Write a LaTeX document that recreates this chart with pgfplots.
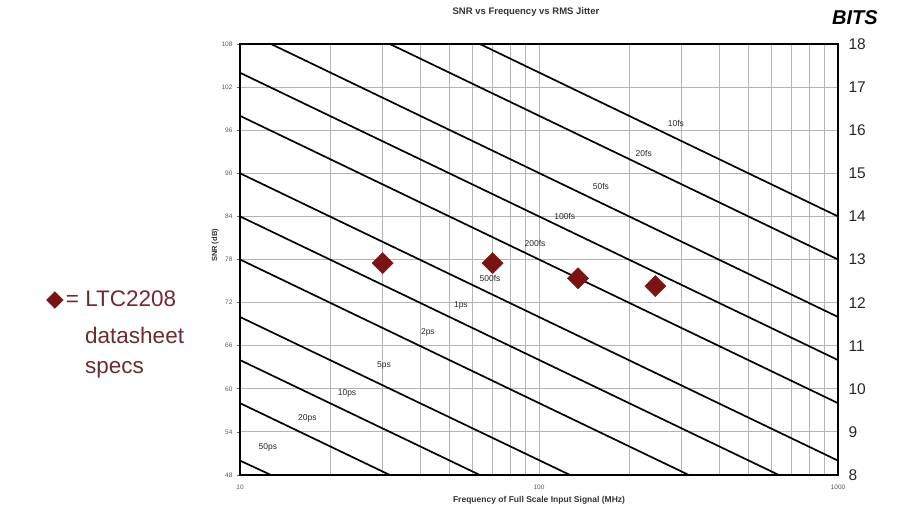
\documentclass[border=0pt]{standalone}
\usepackage{pgfplots}
\pgfplotsset{compat=1.18}
\usepackage{fontspec}
\setmainfont{Liberation Sans}
\newfontfamily\dejavu{DejaVu Sans}
\definecolor{dred}{HTML}{7A1414}
\definecolor{ltext}{HTML}{6E2A32}
\definecolor{gridc}{HTML}{B4B4B4}
\pgfplotsset{jl/.style={black, line width=1.7pt, mark=none}}
\begin{document}
\begin{tikzpicture}
\path[use as bounding box] (0pt,0pt) rectangle (900pt,514pt);
\begin{axis}[at={(240pt,39pt)}, anchor=south west, scale only axis,
  width=598pt, height=431pt,
  xmode=log, xmin=10, xmax=1000, ymin=48, ymax=108,
  ytick={48,54,...,108}, xtick={10,100,1000}, xticklabels={10,100,1000},
  minor xtick={20,30,40,50,60,70,80,90,200,300,400,500,600,700,800,900},
  grid=both,
  major grid style={gridc, line width=0.9pt},
  minor grid style={gridc, line width=0.9pt},
  axis line style={line width=1.6pt},
  major tick length=3pt, minor tick length=0pt,
  tick align=outside, ytick pos=left,
  xtick style={draw=none}, ytick style={black!60, line width=0.6pt},
  /pgf/number format/assume math mode=true,
  tick label style={font=\fontsize{6.5}{7}\selectfont, text=black!65},
  xticklabel style={yshift=-3pt},
  yticklabel style={xshift=-1pt},
  xlabel={\bfseries Frequency of Full Scale Input Signal (MHz)},
  xlabel style={font=\fontsize{8.5}{9}\selectfont, text=black!80, yshift=0pt},
  ylabel={\bfseries SNR (dB)},
  ylabel style={font=\fontsize{7.5}{8}\selectfont, text=black!80, yshift=-4pt, xshift=14pt},
  clip=true,
]
% jitter lines (endpoints)
\addplot[jl] coordinates {(63.4,108) (1000,84)};
\addplot[jl] coordinates {(31.7,108) (1000,78)};
\addplot[jl] coordinates {(12.7,108) (1000,70)};
\addplot[jl] coordinates {(10,104) (1000,64)};
\addplot[jl] coordinates {(10,98) (1000,58)};
\addplot[jl] coordinates {(10,90) (1000,50)};
\addplot[jl] coordinates {(10,84) (634,48)};
\addplot[jl] coordinates {(10,78) (317,48)};
\addplot[jl] coordinates {(10,70) (127,48)};
\addplot[jl] coordinates {(10,64) (63.4,48)};
\addplot[jl] coordinates {(10,58) (31.7,48)};
\addplot[jl] coordinates {(10,50) (12.7,48)};
% datasheet points
\addplot[only marks, mark=square*, mark size=7.5, mark options={rotate=45, fill=dred, draw=dred}]
  coordinates {(30,77.5) (70,77.5) (135,75.4) (245,74.3)};
% labels
\node[font=\fontsize{8.5}{9}\selectfont, text=black!85] at (axis cs:287,96.9) {10fs};
\node[font=\fontsize{8.5}{9}\selectfont, text=black!85] at (axis cs:224,92.8) {20fs};
\node[font=\fontsize{8.5}{9}\selectfont, text=black!85] at (axis cs:161,88.1) {50fs};
\node[font=\fontsize{8.5}{9}\selectfont, text=black!85] at (axis cs:122,84.0) {100fs};
\node[font=\fontsize{8.5}{9}\selectfont, text=black!85] at (axis cs:97,80.3) {200fs};
\node[font=\fontsize{8.5}{9}\selectfont, text=black!85] at (axis cs:68.6,75.4) {500fs};
\node[font=\fontsize{8.5}{9}\selectfont, text=black!85] at (axis cs:54.8,71.6) {1ps};
\node[font=\fontsize{8.5}{9}\selectfont, text=black!85] at (axis cs:42.5,67.9) {2ps};
\node[font=\fontsize{8.5}{9}\selectfont, text=black!85] at (axis cs:30.3,63.2) {5ps};
\node[font=\fontsize{8.5}{9}\selectfont, text=black!85] at (axis cs:22.8,59.3) {10ps};
\node[font=\fontsize{8.5}{9}\selectfont, text=black!85] at (axis cs:16.8,55.9) {20ps};
\node[font=\fontsize{8.5}{9}\selectfont, text=black!85] at (axis cs:12.4,51.9) {50ps};
\end{axis}
\begin{axis}[at={(240pt,39pt)}, anchor=south west, scale only axis,
  width=598pt, height=431pt,
  xmin=0, xmax=1, ymin=8, ymax=18,
  axis x line=none, axis y line*=right,
  axis line style={draw=none},
  ytick={8,9,...,18}, major tick length=0pt,
  /pgf/number format/assume math mode=true,
  yticklabel style={font=\fontsize{15.5}{16}\selectfont, text=black!85, xshift=7pt},
]
\end{axis}
\node[font=\fontsize{9.5}{10}\selectfont\bfseries, text=black!80] at (526pt,502pt) {SNR vs Frequency vs RMS Jitter};
\node[font=\fontsize{20}{21}\selectfont\bfseries\itshape] at (855pt,496pt) {BITS};
\node[anchor=west, font=\fontsize{22.5}{24}\selectfont, text=ltext, inner sep=0pt] at (46pt,214pt)
  {{\dejavu\color{dred}\fontsize{23}{24}\selectfont ◆}\kern2pt= LTC2208};
\node[anchor=west, font=\fontsize{22.5}{24}\selectfont, text=ltext, inner sep=0pt] at (85pt,179pt) {datasheet};
\node[anchor=west, font=\fontsize{22.5}{24}\selectfont, text=ltext, inner sep=0pt] at (85pt,144pt) {specs};
\end{tikzpicture}
\end{document}
